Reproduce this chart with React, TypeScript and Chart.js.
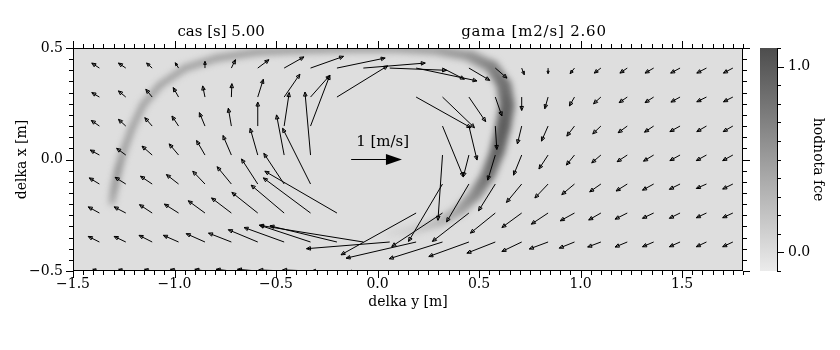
import React, { useEffect, useRef } from "react";
import { Chart, registerables } from "chart.js";
Chart.register(...registerables);

// ---------------- data ----------------
const titleLeft = "cas [s] 5.00";
const titleRight = "gama [m2/s] 2.60";
const xAxisTitle = "delka y [m]";
const yAxisTitle = "delka x [m]";
const cbTitle = "hodnota fce";
const refLabel = "1 [m/s]";

const xTickLabels = [-1.5, -1.0, -0.5, 0.0, 0.5, 1.0, 1.5];
const yTickLabels = [-0.5, 0.0, 0.5];
const cbTickLabels = [0.0, 1.0];

// quiver grid (arrow tails)
const gridX = [-1.37, -1.24, -1.11, -0.98, -0.85, -0.72, -0.59, -0.46, -0.33, -0.2, -0.07, 0.06, 0.19, 0.32, 0.45, 0.58, 0.71, 0.84, 0.97, 1.1, 1.23, 1.36, 1.49, 1.62, 1.75];
const gridY = [-0.5, -0.37, -0.24, -0.11, 0.02, 0.15, 0.28, 0.41];

// velocity components [m/s], one array per grid row (null = not drawn)
const uRow0 = [-0.13, -0.14, -0.15, -0.16, -0.2, -0.3, -0.4, -0.5, -0.55, -0.5, -0.3, -0.1, -0.9, -0.7, -0.55, -0.45, -0.38, -0.33, -0.28, -0.25, -0.23, -0.21, -0.2, -0.2, -0.2];
const vRow0 = [0.03, 0.03, 0.03, 0.03, 0.03, 0.03, 0.03, 0.02, 0.02, 0.0, -0.02, -0.05, -0.1, -0.1, -0.1, -0.1, -0.1, -0.1, -0.1, -0.1, -0.1, -0.1, -0.1, -0.1, -0.1];
const uRow1 = [-0.22, -0.23, -0.26, -0.3, -0.37, -0.45, -0.58, -0.79, -1.0, -1.32, -2.05, -1.64, -1.38, -1.05, -0.79, -0.56, -0.39, -0.37, -0.3, -0.26, -0.24, -0.22, -0.21, -0.2, -0.2];
const vRow1 = [0.1, 0.1, 0.12, 0.12, 0.15, 0.16, 0.22, 0.26, 0.3, 0.29, 0.3, -0.12, -0.29, -0.3, -0.26, -0.2, -0.17, -0.125, -0.11, -0.09, -0.09, -0.085, -0.085, -0.085, -0.085];
const uRow2 = [-0.22, -0.23, -0.25, -0.28, -0.33, -0.39, -0.51, -0.65, -0.93, -1.42, null, null, -1.48, -1.0, -0.72, -0.49, -0.39, -0.33, -0.28, -0.24, -0.24, -0.22, -0.21, -0.2, -0.2];
const vRow2 = [0.11, 0.11, 0.15, 0.16, 0.22, 0.27, 0.37, 0.5, 0.63, 0.75, null, null, -0.75, -0.6, -0.51, -0.36, -0.26, -0.2, -0.14, -0.125, -0.11, -0.095, -0.095, -0.085, -0.085];
const uRow3 = [-0.2, -0.21, -0.23, -0.24, -0.24, -0.28, -0.32, -0.4, -0.55, null, null, null, null, -0.67, -0.44, -0.33, -0.3, -0.26, -0.25, -0.22, -0.22, -0.22, -0.21, -0.2, -0.2];
const vRow3 = [0.11, 0.12, 0.14, 0.17, 0.23, 0.31, 0.45, 0.55, 1.0, null, null, null, null, -1.03, -0.68, -0.48, -0.33, -0.25, -0.19, -0.14, -0.125, -0.11, -0.095, -0.08, -0.09];
const uRow4 = [-0.18, -0.18, -0.2, -0.185, -0.165, -0.165, -0.15, -0.15, -0.11, null, null, null, null, -0.09, -0.11, -0.15, -0.16, -0.18, -0.16, -0.18, -0.2, -0.2, -0.2, -0.2, -0.2];
const vRow4 = [0.09, 0.12, 0.16, 0.2, 0.26, 0.35, 0.48, 0.72, 1.13, null, null, null, null, -1.17, -0.39, -0.45, -0.36, -0.25, -0.18, -0.14, -0.12, -0.11, -0.1, -0.1, -0.1];
const uRow5 = [-0.16, -0.145, -0.145, -0.13, -0.11, -0.06, 0.0, 0.1, 0.38, null, null, null, null, 0.41, 0.16, 0.03, -0.085, -0.13, -0.15, -0.16, -0.18, -0.18, -0.2, -0.19, -0.19];
const vRow5 = [0.1, 0.12, 0.15, 0.18, 0.24, 0.32, 0.43, 0.6, 0.91, null, null, null, null, -0.91, -0.61, -0.42, -0.32, -0.27, -0.18, -0.14, -0.12, -0.11, -0.1, -0.1, -0.1];
const uRow6 = [-0.15, -0.145, -0.125, -0.105, -0.045, 0.01, 0.11, 0.31, 0.38, 1.0, null, null, 1.08, 0.63, 0.33, 0.13, 0.0, -0.065, -0.1, -0.145, -0.16, -0.17, -0.18, -0.19, -0.185];
const vRow6 = [0.08, 0.11, 0.14, 0.17, 0.2, 0.24, 0.32, 0.41, 0.39, 0.56, null, null, -0.55, -0.55, -0.44, -0.34, -0.24, -0.21, -0.16, -0.12, -0.1, -0.1, -0.09, -0.085, -0.085];
const uRow7 = [-0.15, -0.145, -0.11, -0.065, 0.0, 0.08, 0.22, 0.39, 0.65, 0.95, 1.22, 1.12, 1.2, 0.43, 0.41, 0.23, 0.05, 0.0, -0.085, -0.13, -0.145, -0.17, -0.185, -0.19, -0.185];
const vRow7 = [0.09, 0.09, 0.09, 0.095, 0.12, 0.15, 0.15, 0.2, 0.21, 0.18, 0.09, -0.04, -0.23, -0.2, -0.22, -0.18, -0.12, -0.1, -0.1, -0.09, -0.09, -0.09, -0.09, -0.09, -0.09];

const uRows = [uRow0, uRow1, uRow2, uRow3, uRow4, uRow5, uRow6, uRow7];
const vRows = [vRow0, vRow1, vRow2, vRow3, vRow4, vRow5, vRow6, vRow7];

// reference vector
const refSpeed = 1.0;
const refTail = { x: -0.13, y: 0.0 };

// scalar field: crest line of the band, its value and spread [m]
const bandX = [-1.308, -1.298, -1.278, -1.249, -1.209, -1.155, -1.071, -0.948, -0.791, -0.594, -0.382, -0.136, 0.111, 0.308, 0.456, 0.564, 0.623, 0.638, 0.618, 0.589, 0.544, 0.48, 0.406, 0.308, 0.185, 0.062];
const bandY = [-0.191, -0.137, -0.047, 0.043, 0.141, 0.244, 0.334, 0.41, 0.455, 0.482, 0.491, 0.496, 0.496, 0.487, 0.464, 0.415, 0.334, 0.244, 0.141, 0.034, -0.07, -0.159, -0.226, -0.28, -0.316, -0.33];
const bandValue = [0.4, 0.55, 0.6, 0.5, 0.48, 0.47, 0.47, 0.47, 0.47, 0.47, 0.47, 0.45, 0.45, 0.48, 0.55, 0.68, 0.82, 0.92, 0.97, 0.92, 0.82, 0.65, 0.48, 0.32, 0.16, 0.05];
const bandSpread = [0.04, 0.045, 0.045, 0.045, 0.045, 0.045, 0.045, 0.045, 0.047, 0.05, 0.05, 0.05, 0.052, 0.058, 0.07, 0.085, 0.095, 0.1, 0.1, 0.095, 0.09, 0.08, 0.07, 0.06, 0.052, 0.045];

const cbMin = -0.1;
const cbMax = 1.1;
const arrowScale = 0.25; // data units per m/s

// ---------------- styles ----------------
const FONT = "'DejaVu Serif', 'Liberation Serif', serif";
const gray = (v: number) => {
  const g = Math.max(0, Math.min(255, Math.round(222 - 132 * v)));
  return `rgb(${g},${g},${g})`;
};

function drawArrow(ctx: CanvasRenderingContext2D, x0: number, y0: number, x1: number, y1: number, head: number, filled: boolean) {
  const dx = x1 - x0, dy = y1 - y0;
  const L = Math.hypot(dx, dy);
  if (L < 0.5) return;
  const ux = dx / L, uy = dy / L;
  const hl = Math.min(head, L * 0.45);
  const hw = filled ? hl * 0.35 : hl * 0.45;
  const bx = x1 - ux * hl, by = y1 - uy * hl;
  ctx.beginPath();
  ctx.moveTo(x0, y0);
  ctx.lineTo(filled ? bx : x1, filled ? by : y1);
  ctx.stroke();
  ctx.beginPath();
  ctx.moveTo(x1, y1);
  ctx.lineTo(bx - uy * hw, by + ux * hw);
  ctx.lineTo(bx + uy * hw, by - ux * hw);
  ctx.closePath();
  if (filled) ctx.fill();
  else ctx.stroke();
}

const fieldPlugin = {
  id: "field",
  beforeDatasetsDraw(chart: any) {
    const { ctx, chartArea: a, scales } = chart;
    const xs = scales.x, ys = scales.y;
    ctx.save();
    ctx.fillStyle = gray(0);
    ctx.fillRect(a.left, a.top, a.right - a.left, a.bottom - a.top);
    const off = document.createElement("canvas");
    off.width = chart.width;
    off.height = chart.height;
    const o = off.getContext("2d")!;
    o.lineCap = "round";
    o.lineJoin = "round";
    const pxPerM = Math.abs(xs.getPixelForValue(1) - xs.getPixelForValue(0));
    for (let k = 0; k < bandX.length - 1; k++) {
      const p0x = xs.getPixelForValue(bandX[k]);
      const p0y = ys.getPixelForValue(bandY[k]);
      const p1x = xs.getPixelForValue(bandX[k + 1]);
      const p1y = ys.getPixelForValue(bandY[k + 1]);
      const grad = o.createLinearGradient(p0x, p0y, p1x, p1y);
      grad.addColorStop(0, gray(bandValue[k]));
      grad.addColorStop(1, gray(bandValue[k + 1]));
      o.strokeStyle = grad;
      o.lineWidth = ((bandSpread[k] + bandSpread[k + 1]) / 2) * pxPerM * 0.75;
      o.beginPath();
      o.moveTo(p0x, p0y);
      o.lineTo(p1x, p1y);
      o.stroke();
    }
    ctx.beginPath();
    ctx.rect(a.left, a.top, a.right - a.left, a.bottom - a.top);
    ctx.clip();
    ctx.filter = "blur(3px)";
    ctx.drawImage(off, 0, 0);
    ctx.filter = "none";
    ctx.restore();
  },
  afterDatasetsDraw(chart: any) {
    const { ctx, chartArea: a, scales } = chart;
    const xs = scales.x, ys = scales.y, cb = scales.cb;
    ctx.save();
    ctx.beginPath();
    ctx.rect(a.left, a.top, a.right - a.left, a.bottom - a.top);
    ctx.clip();
    ctx.strokeStyle = "#000";
    ctx.fillStyle = "#000";
    ctx.lineWidth = 1;
    for (let j = 0; j < gridY.length; j++) {
      for (let i = 0; i < gridX.length; i++) {
        const u = uRows[j][i], v = vRows[j][i];
        if (u === null || v === null) continue;
        const x0 = xs.getPixelForValue(gridX[i]);
        const y0 = ys.getPixelForValue(gridY[j]);
        const x1 = xs.getPixelForValue(gridX[i] + (u as number) * arrowScale);
        const y1 = ys.getPixelForValue(gridY[j] + (v as number) * arrowScale);
        drawArrow(ctx, x0, y0, x1, y1, 4, false);
      }
    }
    const rx0 = xs.getPixelForValue(refTail.x);
    const ry0 = ys.getPixelForValue(refTail.y);
    const rx1 = xs.getPixelForValue(refTail.x + refSpeed * arrowScale);
    drawArrow(ctx, rx0, ry0, rx1, ry0, 16, true);
    ctx.font = `15px ${FONT}`;
    ctx.textAlign = "left";
    ctx.textBaseline = "middle";
    ctx.fillText(refLabel, rx0 + 5, ry0 - 17);
    ctx.restore();

    ctx.save();
    ctx.strokeStyle = "#000";
    ctx.lineWidth = 1;
    ctx.strokeRect(Math.round(a.left) + 0.5, Math.round(a.top) + 0.5, Math.round(a.right - a.left) - 1, Math.round(a.bottom - a.top) - 1);
    ctx.beginPath();
    for (let k = 0; k <= 66; k++) {
      const v = -1.5 + 0.05 * k;
      const px = Math.round(xs.getPixelForValue(v)) + 0.5;
      const len = k % 10 === 0 ? 7 : 4;
      ctx.moveTo(px, a.bottom);
      ctx.lineTo(px, a.bottom + len);
      ctx.moveTo(px, a.top);
      ctx.lineTo(px, a.top - len);
    }
    for (let k = 0; k <= 20; k++) {
      const v = -0.5 + 0.05 * k;
      const py = Math.round(ys.getPixelForValue(v)) + 0.5;
      const len = k % 10 === 0 ? 7 : 4;
      ctx.moveTo(a.left, py);
      ctx.lineTo(a.left - len, py);
      ctx.moveTo(a.right, py);
      ctx.lineTo(a.right + len, py);
    }
    ctx.stroke();

    const cbL = a.right + 17, cbR = a.right + 34;
    const top = cb.getPixelForValue(cbMax), bot = cb.getPixelForValue(cbMin);
    const g = ctx.createLinearGradient(0, bot, 0, top);
    g.addColorStop(0, gray(cbMin));
    g.addColorStop(1, gray(cbMax));
    ctx.fillStyle = g;
    ctx.fillRect(cbL, top, cbR - cbL, bot - top);
    ctx.beginPath();
    ctx.moveTo(cbR + 0.5, top);
    ctx.lineTo(cbR + 0.5, bot);
    for (let k = 0; k <= 12; k++) {
      const v = cbMin + 0.1 * k;
      const py = Math.round(cb.getPixelForValue(v)) + 0.5;
      const major = cbTickLabels.some((t) => Math.abs(t - v) < 1e-6);
      ctx.moveTo(cbR, py);
      ctx.lineTo(cbR + (major ? 7 : 4), py);
    }
    ctx.stroke();
    ctx.fillStyle = "#000";
    ctx.font = `14px ${FONT}`;
    ctx.textAlign = "left";
    ctx.textBaseline = "middle";
    for (const t of cbTickLabels) ctx.fillText(t.toFixed(1), cbR + 11, cb.getPixelForValue(t));

    ctx.font = `15px ${FONT}`;
    ctx.textAlign = "center";
    ctx.textBaseline = "middle";
    const w = a.right - a.left;
    ctx.fillText(titleLeft, a.left + 0.221 * w, a.top - 16);
    (ctx as any).letterSpacing = "0.8px";
    ctx.fillText(titleRight, a.left + 0.688 * w, a.top - 16);
    (ctx as any).letterSpacing = "0px";
    ctx.font = `14px ${FONT}`;
    ctx.fillText(xAxisTitle, (a.left + a.right) / 2, a.bottom + 31);
    ctx.save();
    ctx.translate(a.left - 51, (a.top + a.bottom) / 2);
    ctx.rotate(-Math.PI / 2);
    ctx.fillText(yAxisTitle, 0, 0);
    ctx.restore();
    ctx.save();
    ctx.translate(cbR + 41, (a.top + a.bottom) / 2);
    ctx.rotate(Math.PI / 2);
    ctx.fillText(cbTitle, 0, 0);
    ctx.restore();
    ctx.restore();
  },
};

const fmt = (v: number) => (v < 0 ? "\u2212" : "") + Math.abs(v).toFixed(1);

export default function App() {
  const ref = useRef<HTMLCanvasElement>(null);
  useEffect(() => {
    document.body.style.margin = "0";
    const tails: { x: number; y: number }[] = [];
    gridY.forEach((y) => gridX.forEach((x) => tails.push({ x, y })));
    const chart = new Chart(ref.current as HTMLCanvasElement, {
      type: "scatter",
      data: { datasets: [{ data: tails, pointRadius: 0, showLine: false }] },
      options: {
        animation: false,
        responsive: false,
        devicePixelRatio: 1,
        events: [],
        layout: { padding: { top: 48, right: 97, left: 0, bottom: 0 } },
        plugins: { legend: { display: false }, tooltip: { enabled: false }, title: { display: false } },
        scales: {
          x: {
            type: "linear",
            position: "bottom",
            min: -1.5,
            max: 1.8,
            afterBuildTicks: (s: any) => { s.ticks = xTickLabels.map((value) => ({ value })); },
            afterFit: (s: any) => { s.height = 79; },
            grid: { display: false, drawTicks: false },
            border: { display: false },
            ticks: { autoSkip: false, maxRotation: 0, padding: 5, color: "#000", font: { family: FONT, size: 14 }, callback: (v: any) => fmt(Number(v)) },
          },
          y: {
            type: "linear",
            position: "left",
            min: -0.5,
            max: 0.5,
            afterBuildTicks: (s: any) => { s.ticks = yTickLabels.map((value) => ({ value })); },
            afterFit: (s: any) => { s.width = 73; },
            grid: { display: false, drawTicks: false },
            border: { display: false },
            ticks: { autoSkip: false, padding: 10, color: "#000", font: { family: FONT, size: 14 }, callback: (v: any) => fmt(Number(v)) },
          },
          cb: { type: "linear", position: "right", display: false, min: cbMin, max: cbMax },
        },
      },
      plugins: [fieldPlugin],
    } as any);
    return () => chart.destroy();
  }, []);
  return (
    <div style={{ width: 840, height: 350, background: "#fff" }}>
      <canvas ref={ref} width={840} height={350} style={{ display: "block" }} />
    </div>
  );
}
